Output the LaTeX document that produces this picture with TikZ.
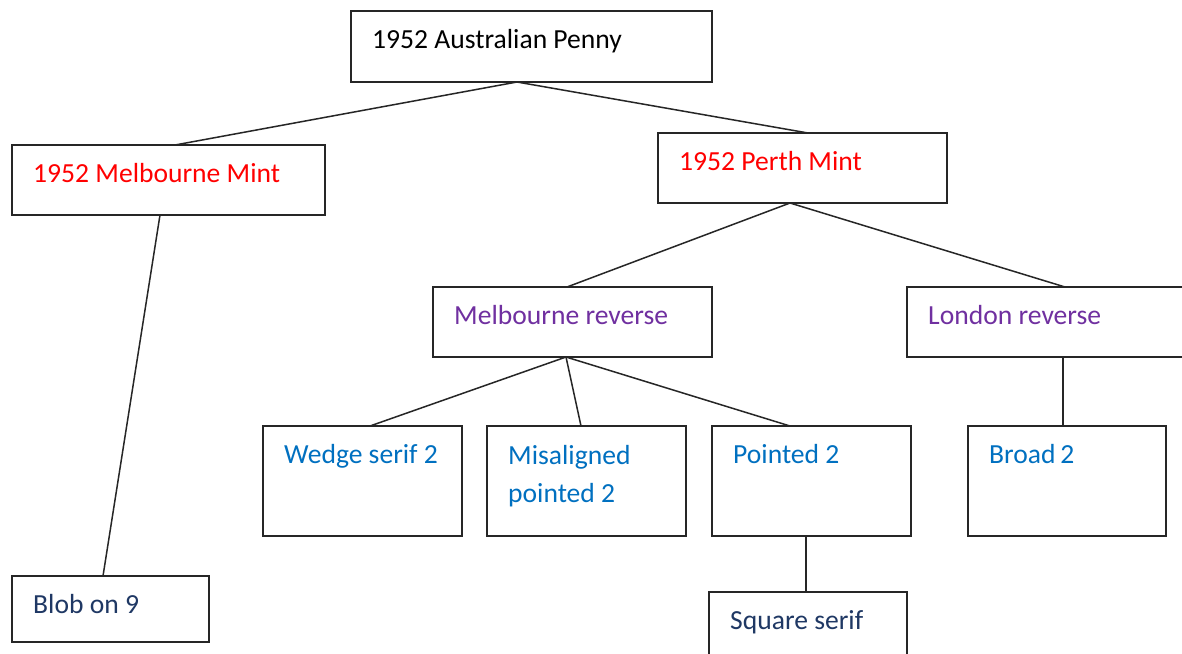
\documentclass[tikz,border=0pt]{standalone}
\usepackage{fontspec}
\setmainfont{Carlito}
\definecolor{cred}{HTML}{FF0000}
\definecolor{cpurple}{HTML}{7030A0}
\definecolor{cblue}{HTML}{0070C0}
\definecolor{cnavy}{HTML}{1F3864}
\definecolor{cline}{HTML}{262626}
\tikzset{
  box/.style={draw=cline, line width=1.5pt, rectangle, inner sep=0pt, outer sep=0pt},
  lbl/.style={anchor=base west, inner sep=0pt, font=\fontsize{27.6}{38}\selectfont, align=left},
  conn/.style={draw=cline, line width=1.5pt}
}
% name, x, y, w, h, colour, text, baseline offset
\newcommand\bx[8]{%
  \node[box, minimum width=#4pt, minimum height=#5pt] (#1) at ({#2+#4/2},{#3+#5/2}) {};
  \node[lbl, text=#6] (#1t) at ({#2+21},{#3+#8}) {#7};}
\begin{document}
\begin{tikzpicture}[x=1pt,y=-1pt]
\useasboundingbox (0,0) rectangle (1182,653);
\clip (0,0) rectangle (1182,653);
\fill[white] (0,0) rectangle (1182,653);
\bx{top}{351}{11}{361}{71}{black}{1952 Australian Penny}{37}
\bx{mm}{12}{145}{313}{70}{cred}{1952 Melbourne Mint}{37}
\bx{pm}{658}{133}{289}{70}{cred}{1952 Perth Mint}{37}
\bx{mr}{433}{287}{279}{70}{cpurple}{Melbourne reverse}{37}
\bx{lr}{907}{287}{300}{70}{cpurple}{London reverse}{37}
\bx{ws}{263}{426}{199}{110}{cblue}{Wedge serif 2}{37}
\bx{mp}{487}{426}{199}{110}{cblue}{Misaligned\\pointed 2}{76}
\bx{pt}{712}{426}{199}{110}{cblue}{Pointed 2}{37}
\bx{br}{968}{426}{198}{110}{cblue}{Broad\,2}{37}
\bx{bl}{12}{576}{197}{66}{cnavy}{Blob on 9}{37}
\bx{ss}{709}{592}{198}{90}{cnavy}{Square serif}{37}
% connectors
\draw[conn] ([xshift=166pt]top.south west) -- ([xshift=163pt]mm.north west);
\draw[conn] ([xshift=166pt]top.south west) -- ([xshift=150pt]pm.north west);
\draw[conn] ([xshift=148pt]mm.south west) -- ([xshift=91pt]bl.north west);
\draw[conn] ([xshift=132pt]pm.south west) -- ([xshift=134pt]mr.north west);
\draw[conn] ([xshift=132pt]pm.south west) -- ([xshift=158pt]lr.north west);
\draw[conn] ([xshift=133pt]mr.south west) -- ([xshift=107pt]ws.north west);
\draw[conn] ([xshift=133pt]mr.south west) -- ([xshift=94pt]mp.north west);
\draw[conn] ([xshift=133pt]mr.south west) -- ([xshift=78pt]pt.north west);
\draw[conn] ([xshift=156pt]lr.south west) -- ([xshift=95pt]br.north west);
\draw[conn] ([xshift=94pt]pt.south west) -- ([xshift=97pt]ss.north west);
\end{tikzpicture}
\end{document}
